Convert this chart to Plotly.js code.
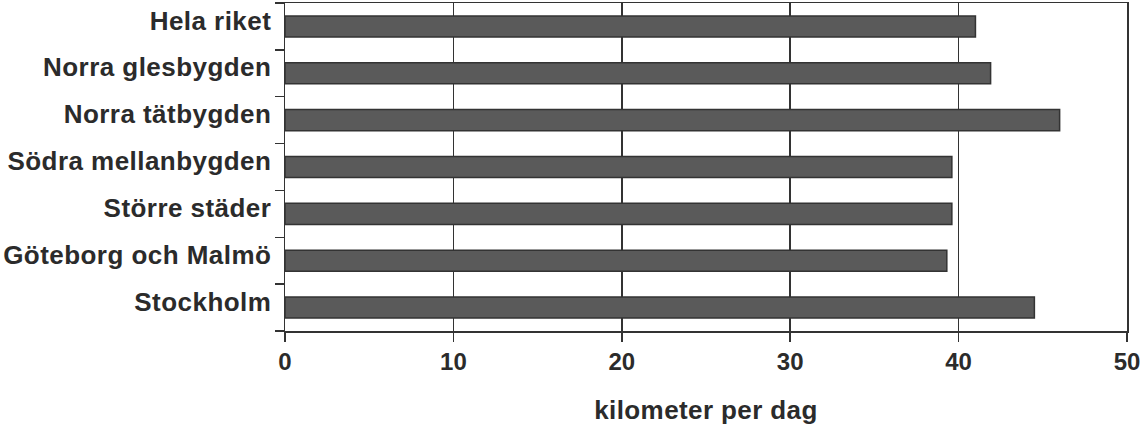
<!DOCTYPE html>
<html>
<head>
<meta charset="utf-8">
<script src="https://cdn.plot.ly/plotly-3.0.1.min.js"></script>
<style>
html,body{margin:0;padding:0;background:#fff;}
#chart{width:1141px;height:425px;}
.ytick text{letter-spacing:0.45px;}
.g-xtitle text{letter-spacing:0.4px;}
</style>
</head>
<body>
<div id="chart"></div>
<script>
const categories = ["Hela riket","Norra glesbygden","Norra tätbygden","Södra mellanbygden","Större städer","Göteborg och Malmö","Stockholm"];
const values = [41.0, 41.9, 46.0, 39.6, 39.6, 39.3, 44.5];
const xTicks = [0, 10, 20, 30, 40, 50];

const fam = "Liberation Sans, Arial, sans-serif";
const col = "#2b2b2b";

Plotly.newPlot("chart", [{
  type: "bar",
  orientation: "h",
  x: values,
  y: categories,
  width: 0.45,
  marker: {color: "#5a5a5a", line: {color: "#333", width: 1.5}},
  hoverinfo: "none"
}], {
  width: 1141, height: 425,
  margin: {l: 285, r: 14, t: 3, b: 94},
  paper_bgcolor: "#fff", plot_bgcolor: "#fff",
  showlegend: false,
  font: {family: fam, size: 24, color: col},
  xaxis: {
    range: [0, 50],
    tickvals: xTicks,
    ticktext: xTicks.map(v => "<b>" + v + "</b>"),
    ticks: "outside", ticklen: 9, tickwidth: 1.5, tickcolor: "#333",
    showline: true, linecolor: "#333", linewidth: 1.5, mirror: true,
    showgrid: true, gridcolor: "#333", gridwidth: 1.5,
    zeroline: false,
    tickfont: {family: fam, size: 24, color: col},
    title: {text: "<b>kilometer per dag</b>", font: {family: fam, size: 26, color: col}, standoff: 26}
  },
  yaxis: {
    type: "category",
    autorange: "reversed",
    tickvals: categories,
    ticktext: categories.map(c => "<b>" + c + "</b>"),
    tickson: "boundaries",
    ticks: "outside", ticklen: 9, tickwidth: 1.5, tickcolor: "#333",
    showline: true, linecolor: "#333", linewidth: 1.5, mirror: true,
    showgrid: false, zeroline: false,
    tickfont: {family: fam, size: 26, color: col},
    ticklabelstandoff: 7,
    ticklabelshift: 6
  }
}, {staticPlot: true});
</script>
</body>
</html>
